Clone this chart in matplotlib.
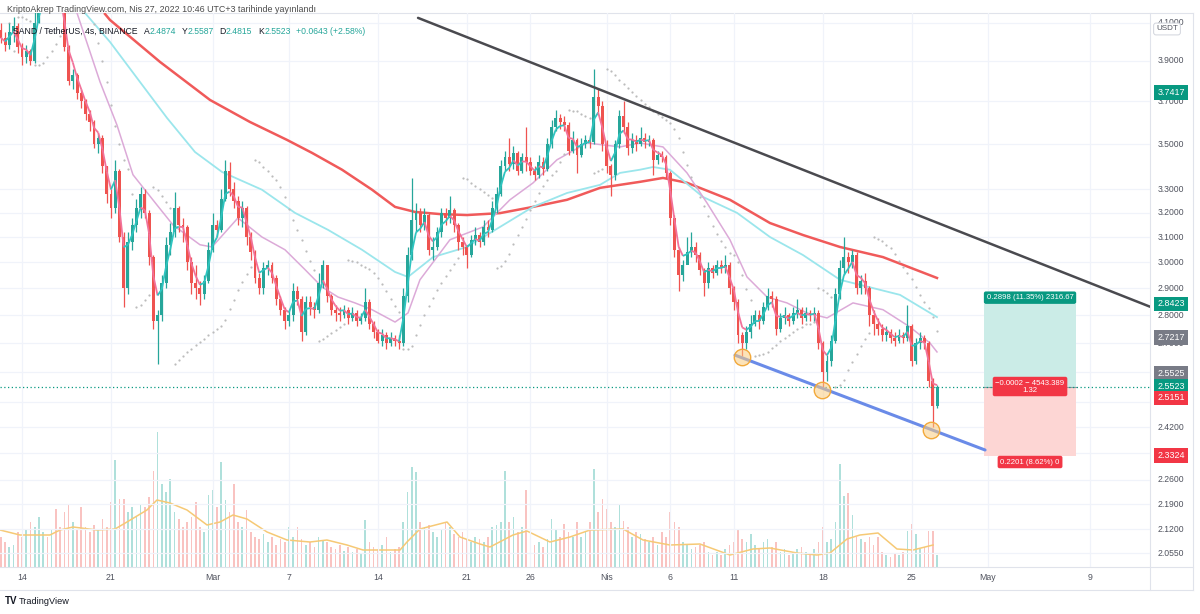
import numpy as np
import pandas as pd
import matplotlib
matplotlib.use("Agg")
import matplotlib.pyplot as plt
import matplotlib.transforms as mtrans
from matplotlib.collections import LineCollection
from matplotlib.lines import Line2D

plt.rcParams['font.family'] = ['Liberation Sans', 'DejaVu Sans']

# ------------------------------------------------------------------ data
candle_start = "2022-02-12 08:00"
candle_freq = "8h"
open0 = 4.06
close = [4.02, 3.98, 4.05, 4.08, 3.97, 3.92, 3.95, 3.90, 4.10, 4.25,
         4.30, 4.28, 4.32, 4.26, 4.22, 3.97, 3.80, 3.83, 3.74, 3.70,
         3.64, 3.60, 3.50, 3.53, 3.40, 3.28, 3.22, 3.38, 3.10, 2.90,
         3.08, 3.15, 3.22, 3.28, 3.20, 3.02, 2.78, 2.80, 2.92, 3.07,
         3.12, 3.22, 3.15, 3.14, 3.00, 2.92, 2.90, 2.88, 2.93, 3.05,
         3.15, 3.13, 3.26, 3.38, 3.30, 3.25, 3.18, 3.22, 3.10, 3.04,
         2.94, 2.90, 2.98, 2.99, 2.94, 2.86, 2.82, 2.78, 2.80, 2.89,
         2.86, 2.74, 2.85, 2.83, 2.82, 2.92, 2.99, 2.87, 2.82, 2.81,
         2.80, 2.82, 2.79, 2.81, 2.78, 2.79, 2.85, 2.77, 2.74, 2.71,
         2.73, 2.70, 2.72, 2.71, 2.70, 2.87, 3.03, 3.17, 3.20, 3.15,
         3.19, 3.05, 3.06, 3.12, 3.20, 3.18, 3.21, 3.15, 3.08, 3.06,
         3.03, 3.09, 3.11, 3.08, 3.14, 3.13, 3.22, 3.28, 3.40, 3.44,
         3.41, 3.46, 3.38, 3.44, 3.42, 3.38, 3.36, 3.42, 3.39, 3.50,
         3.58, 3.62, 3.60, 3.59, 3.47, 3.52, 3.45, 3.50, 3.52, 3.51,
         3.72, 3.68, 3.50, 3.40, 3.36, 3.50, 3.63, 3.58, 3.48, 3.52,
         3.50, 3.53, 3.51, 3.52, 3.43, 3.45, 3.44, 3.37, 3.18, 3.05,
         2.95, 2.99, 3.04, 3.06, 3.03, 2.97, 2.92, 2.98, 2.96, 2.99,
         2.98, 2.99, 2.90, 2.85, 2.73, 2.70, 2.74, 2.77, 2.80, 2.78,
         2.83, 2.87, 2.86, 2.75, 2.79, 2.80, 2.78, 2.81, 2.82, 2.79,
         2.81, 2.80, 2.81, 2.70, 2.60, 2.64, 2.71, 2.88, 2.98, 3.02,
         3.00, 3.03, 2.90, 2.93, 2.90, 2.80, 2.77, 2.75, 2.73, 2.74,
         2.72, 2.71, 2.73, 2.72, 2.76, 2.64, 2.70, 2.72, 2.70, 2.57,
         2.4874, 2.5523]
high = [4.10, 4.05, 4.10, 4.13, 4.10, 3.99, 3.98, 3.96, 4.20, 4.35,
        4.40, 4.38, 4.45, 4.36, 4.30, 4.24, 3.98, 3.86, 3.84, 3.76,
        3.71, 3.66, 3.61, 3.55, 3.54, 3.40, 3.30, 3.43, 3.39, 3.12,
        3.12, 3.18, 3.26, 3.31, 3.30, 3.21, 3.03, 2.82, 2.95, 3.10,
        3.16, 3.29, 3.23, 3.18, 3.15, 3.02, 2.99, 2.93, 2.95, 3.08,
        3.20, 3.17, 3.30, 3.43, 3.42, 3.33, 3.27, 3.25, 3.23, 3.12,
        3.05, 2.96, 3.00, 3.01, 3.00, 2.95, 2.87, 2.83, 2.82, 2.92,
        2.91, 2.87, 2.87, 2.87, 2.85, 2.96, 3.01, 2.99, 2.88, 2.84,
        2.83, 2.84, 2.83, 2.83, 2.82, 2.81, 2.90, 2.86, 2.78, 2.75,
        2.75, 2.74, 2.74, 2.73, 2.73, 2.90, 3.06, 3.35, 3.24, 3.22,
        3.22, 3.20, 3.10, 3.14, 3.22, 3.22, 3.27, 3.22, 3.16, 3.10,
        3.07, 3.11, 3.14, 3.12, 3.17, 3.17, 3.25, 3.31, 3.43, 3.47,
        3.53, 3.49, 3.47, 3.46, 3.58, 3.44, 3.40, 3.45, 3.44, 3.53,
        3.61, 3.66, 3.64, 3.63, 3.60, 3.56, 3.53, 3.53, 3.54, 3.54,
        3.86, 3.76, 3.70, 3.52, 3.41, 3.52, 3.66, 3.70, 3.60, 3.55,
        3.54, 3.58, 3.55, 3.54, 3.53, 3.47, 3.47, 3.45, 3.38, 3.19,
        3.06, 3.01, 3.10, 3.12, 3.08, 3.04, 2.98, 3.00, 2.99, 3.01,
        3.01, 3.03, 3.00, 2.91, 2.86, 2.74, 2.76, 2.80, 2.82, 2.82,
        2.85, 2.90, 2.89, 2.87, 2.81, 2.83, 2.81, 2.83, 2.86, 2.83,
        2.83, 2.82, 2.83, 2.82, 2.71, 2.66, 2.73, 2.90, 3.01, 3.10,
        3.04, 3.05, 3.04, 2.95, 2.96, 2.91, 2.82, 2.79, 2.77, 2.76,
        2.75, 2.74, 2.75, 2.74, 2.84, 2.77, 2.72, 2.74, 2.73, 2.71,
        2.58, 2.5587]
low = [3.99, 3.95, 3.96, 4.00, 3.94, 3.88, 3.89, 3.88, 3.89, 4.10,
       4.20, 4.20, 4.22, 4.18, 4.16, 3.95, 3.78, 3.76, 3.71, 3.67,
       3.61, 3.56, 3.48, 3.46, 3.37, 3.24, 3.18, 3.20, 3.08, 2.83,
       2.88, 3.05, 3.12, 3.18, 3.18, 2.99, 2.75, 2.63, 2.78, 2.90,
       3.03, 3.10, 3.12, 3.08, 2.97, 2.88, 2.86, 2.84, 2.86, 2.92,
       3.04, 3.10, 3.12, 3.25, 3.27, 3.22, 3.15, 3.14, 3.07, 3.01,
       2.92, 2.88, 2.88, 2.95, 2.92, 2.84, 2.80, 2.75, 2.76, 2.78,
       2.84, 2.71, 2.73, 2.80, 2.79, 2.81, 2.90, 2.85, 2.80, 2.78,
       2.78, 2.79, 2.77, 2.78, 2.76, 2.77, 2.78, 2.75, 2.72, 2.70,
       2.69, 2.68, 2.69, 2.69, 2.68, 2.69, 2.85, 3.01, 3.12, 3.12,
       3.13, 3.03, 3.01, 3.05, 3.10, 3.15, 3.16, 3.12, 3.05, 3.03,
       2.98, 3.02, 3.07, 3.06, 3.07, 3.10, 3.12, 3.20, 3.27, 3.38,
       3.38, 3.39, 3.36, 3.37, 3.38, 3.36, 3.34, 3.35, 3.36, 3.38,
       3.48, 3.56, 3.57, 3.56, 3.45, 3.46, 3.37, 3.44, 3.48, 3.48,
       3.50, 3.65, 3.47, 3.37, 3.27, 3.34, 3.48, 3.55, 3.45, 3.46,
       3.47, 3.49, 3.48, 3.49, 3.36, 3.41, 3.42, 3.35, 3.15, 3.02,
       2.89, 2.93, 3.00, 3.02, 3.00, 2.95, 2.87, 2.90, 2.94, 2.95,
       2.96, 2.96, 2.88, 2.82, 2.70, 2.655, 2.68, 2.72, 2.76, 2.75,
       2.77, 2.82, 2.83, 2.73, 2.74, 2.77, 2.76, 2.77, 2.79, 2.77,
       2.78, 2.78, 2.78, 2.68, 2.55, 2.57, 2.62, 2.70, 2.86, 2.95,
       2.96, 2.98, 2.88, 2.88, 2.88, 2.76, 2.73, 2.73, 2.71, 2.71,
       2.70, 2.69, 2.70, 2.70, 2.71, 2.62, 2.63, 2.68, 2.68, 2.55,
       2.42, 2.4815]
volume = [30, 25, 20, 22, 35, 30, 38, 45, 40, 50,
          35, 30, 38, 58, 40, 55, 62, 45, 38, 60,
          40, 35, 42, 38, 48, 40, 65, 107, 68, 68,
          55, 60, 50, 62, 60, 70, 96, 135, 83, 75,
          88, 55, 48, 40, 45, 50, 65, 40, 35, 72,
          77, 60, 105, 67, 55, 83, 45, 40, 57, 35,
          30, 28, 33, 25, 30, 22, 28, 25, 40, 30,
          40, 28, 22, 25, 20, 30, 27, 25, 20, 18,
          22, 16, 20, 15, 18, 14, 47, 25, 20, 18,
          22, 30, 15, 18, 20, 45, 75, 100, 95, 45,
          40, 42, 35, 30, 38, 45, 40, 33, 30, 35,
          28, 25, 30, 28, 25, 30, 40, 42, 45, 96,
          45, 50, 35, 40, 77, 30, 22, 25, 20, 28,
          48, 38, 30, 43, 35, 30, 45, 30, 35, 45,
          98, 55, 68, 58, 45, 40, 62, 46, 40, 30,
          35, 33, 28, 25, 30, 22, 35, 30, 55, 45,
          40, 25, 22, 18, 20, 22, 25, 15, 12, 15,
          12, 18, 22, 25, 38, 28, 25, 33, 22, 18,
          25, 28, 20, 25, 15, 18, 12, 15, 18, 20,
          15, 12, 18, 25, 40, 25, 28, 45, 103, 71,
          74, 52, 30, 28, 25, 30, 22, 30, 15, 12,
          10, 14, 12, 15, 36, 43, 33, 18, 20, 36,
          36, 12]

# moving averages (day offsets from 14 Feb 2022)
ma_red_days = [6.53, 6.92, 10.86, 14.79, 17.94, 20.85, 22.82, 25.18, 27.54, 29.35,
               30.92, 32.89, 35.01, 37.61, 40.20, 42.88, 45.48, 47.05, 48.62, 50.43,
               52.32, 55.70, 58.85, 61.45, 64.36, 67.74, 71.99]
ma_red = [4.146, 4.114, 3.895, 3.707, 3.602, 3.519, 3.460, 3.385, 3.298, 3.225,
          3.204, 3.195, 3.191, 3.199, 3.225, 3.255, 3.306, 3.319, 3.332, 3.349,
          3.328, 3.255, 3.158, 3.109, 3.061, 3.021, 2.940]
ma_cyan_days = [4.96, 6.92, 9.28, 11.41, 13.61, 15.74, 18.88, 21.48, 24.08, 26.75,
                29.35, 30.37, 32.34, 35.01, 37.61, 40.20, 42.88, 45.48, 47.05, 48.62,
                49.65, 50.98, 53.58, 56.26, 58.85, 61.45, 64.36, 69.08, 71.99]
ma_cyan = [4.151, 3.998, 3.795, 3.621, 3.464, 3.375, 3.298, 3.200, 3.130, 3.050,
           2.963, 2.944, 3.021, 3.061, 3.142, 3.225, 3.284, 3.319, 3.371, 3.385,
           3.397, 3.385, 3.267, 3.200, 3.101, 3.029, 2.933, 2.876, 2.794]
ma_mauve_days = [4.33, 6.14, 7.47, 8.73, 10.62, 11.88, 14.00, 14.95, 16.99, 18.88,
                 20.69, 22.27, 23.60, 24.86, 26.20, 27.54, 29.35, 30.37, 31.31, 33.67,
                 36.27, 38.39, 40.20, 42.09, 44.45, 47.05, 48.62, 50.43, 52.32, 53.89,
                 55.70, 57.04, 58.62, 60.19, 61.76, 63.34, 65.38, 67.74, 69.87, 71.44,
                 71.99]
ma_mauve = [4.151, 3.795, 3.588, 3.363, 3.233, 3.150, 3.070, 3.061, 3.179, 3.101,
            3.050, 2.972, 2.906, 2.868, 2.846, 2.821, 2.776, 2.809, 2.933, 3.090,
            3.142, 3.255, 3.327, 3.429, 3.505, 3.487, 3.505, 3.487, 3.371, 3.242,
            3.090, 2.944, 2.868, 2.846, 2.809, 2.791, 2.846, 2.821, 2.758, 2.701,
            2.670]
vol_ma_days = [-1.73, -0.16, 2.20, 2.99, 4.01, 5.90, 7.32, 8.26, 9.83, 10.62,
               11.64, 12.98, 14.56, 15.58, 16.60, 17.70, 19.28, 20.85, 22.66, 23.99,
               25.57, 26.83, 29.74, 30.29, 31.31, 33.44, 34.46, 36.03, 36.82, 38.63,
               39.73, 41.54, 43.11, 44.69, 47.29, 48.86, 50.98, 53.34, 55.70, 57.51,
               58.85, 60.98, 62.55, 63.57, 64.91, 65.93, 67.35, 68.84, 70.10, 71.68]
vol_ma = [37, 32, 32, 37, 40, 37, 38, 45, 57, 67,
          64, 57, 42, 45, 52, 48, 35, 27, 25, 27,
          22, 17, 17, 25, 38, 45, 30, 23, 20, 32,
          36, 25, 30, 37, 38, 27, 22, 23, 12, 18,
          19, 14, 12, 14, 28, 32, 34, 18, 17, 22]

tick_dates = ["2022-02-14", "2022-02-21", "2022-03-01", "2022-03-07", "2022-03-14",
              "2022-03-21", "2022-03-26", "2022-04-01", "2022-04-06", "2022-04-11",
              "2022-04-18", "2022-04-25", "2022-05-01", "2022-05-09"]
tick_labels = ["14", "21", "Mar", "7", "14", "21", "26", "Nis", "6", "11",
               "18", "25", "May", "9"]
price_grid = [4.1, 3.9, 3.7, 3.5, 3.3, 3.2, 3.1, 3.0, 2.9, 2.8, 2.7, 2.6, 2.5,
              2.42, 2.34, 2.26, 2.19, 2.12, 2.055]
# labels hidden behind the coloured price marks are not drawn
price_labels = [4.1, 3.9, 3.7, 3.5, 3.3, 3.2, 3.1, 3.0, 2.9, 2.8, 2.7,
                2.42, 2.26, 2.19, 2.12, 2.055]

trend_days = [31.16, 88.75]
trend_prices = [4.125, 2.832]
support_days = [56.10, 75.77]
support_prices = [2.659, 2.350]
touch_days = [56.65, 62.94, 71.52]
touch_prices = [2.654, 2.542, 2.413]

entry_price = 2.5525
take_profit = 2.8423
stop_loss = 2.3324
position_days = [75.69, 82.93]
last_price = 2.5523

axis_marks = [(3.7417, '#089981', 0), (2.8423, '#089981', 0), (2.7217, '#787b86', 0),
              (2.5525, '#787b86', 13.5), (2.5523, '#089981', 0), (2.5151, '#f23645', 0),
              (2.3324, '#f23645', 0)]

header = "KriptoAkrep TradingView.com, Nis 27, 2022 10:46 UTC+3 tarihinde yayınlandı"
legend_parts = [("SAND / TetherUS, 4s, BINANCE", 'dark'), ("A", 'dark'),
                ("2.4874", 'teal'), ("Y", 'dark'), ("2.5587", 'teal'),
                ("D", 'dark'), ("2.4815", 'teal'), ("K", 'dark'),
                ("2.5523", 'teal'), ("+0.0643 (+2.58%)", 'teal')]

# ------------------------------------------------------------------ figure
W, H = 1200, 614
fig = plt.figure(figsize=(W / 100, H / 100), dpi=100)
fig.patch.set_facecolor('white')


def rect(x0, y0, x1, y1):
    return [x0 / W, 1 - y1 / H, (x1 - x0) / W, (y1 - y0) / H]


PANE = (0, 13, 1150, 567)
ax_v = fig.add_axes(rect(*PANE))
ax = fig.add_axes(rect(*PANE))
ax.set_zorder(2)
ax_v.set_zorder(1)
ax.patch.set_visible(False)

XL = (-1.731, 88.749)
YL = (2.0179, 4.1513)
PANE_H = PANE[3] - PANE[1]

base = pd.Timestamp('2022-02-14')
t = np.asarray((pd.date_range(candle_start, periods=len(close), freq=candle_freq) - base)
               / pd.Timedelta(days=1))
c = np.asarray(close, float)
o = np.concatenate([[open0], c[:-1]])
h = np.asarray(high, float)
l = np.asarray(low, float)
up = c >= o
UP, DN = '#26a69a', '#ef5350'
cols = np.where(up, UP, DN)

ax.set_yscale('log')
ax.set_xlim(*XL)
ax.set_ylim(*YL)
ax.yaxis.set_major_locator(matplotlib.ticker.NullLocator())
ax.yaxis.set_minor_locator(matplotlib.ticker.NullLocator())
ax.xaxis.set_major_locator(matplotlib.ticker.NullLocator())
for a in (ax, ax_v):
    for s in a.spines.values():
        s.set_visible(False)
ax_v.set_xticks([])
ax_v.set_yticks([])
ax_v.set_xlim(*XL)
ax_v.set_ylim(0, PANE_H)

tick_days = [(pd.Timestamp(d) - base) / pd.Timedelta(days=1) for d in tick_dates]
GRID = '#f0f3fa'
for p in price_grid:
    ax.axhline(p, color=GRID, lw=0.9, zorder=0)
for d in tick_days:
    ax.axvline(d, color=GRID, lw=0.9, zorder=0)

# volume
vcols = np.where(up, '#afe0db', '#f9c3c1')
ax_v.bar(t, volume, width=0.13, color=vcols, linewidth=0)
ax_v.plot(vol_ma_days, vol_ma, color='#f6c975', lw=1.1)

# moving averages
ax.plot(ma_red_days, ma_red, color='#f05a5a', lw=1.8, zorder=2)
ax.plot(ma_cyan_days, ma_cyan, color='#9be6ec', lw=1.3, zorder=2)
ax.plot(ma_mauve_days, ma_mauve, color='#dcaad8', lw=1.1, zorder=2)


# parabolic SAR from the candles
def psar(hh, ll, af0=0.02, step=0.02, afmax=0.2):
    n = len(hh)
    sar = np.zeros(n)
    bull = False
    af = af0
    ep = ll[0]
    sar[0] = hh[0]
    for i in range(1, n):
        s = sar[i - 1] + af * (ep - sar[i - 1])
        if bull:
            s = min(s, ll[i - 1], ll[max(i - 2, 0)])
            if ll[i] < s:
                bull, s, ep, af = False, ep, ll[i], af0
            elif hh[i] > ep:
                ep, af = hh[i], min(af + step, afmax)
        else:
            s = max(s, hh[i - 1], hh[max(i - 2, 0)])
            if hh[i] > s:
                bull, s, ep, af = True, ep, hh[i], af0
            elif ll[i] < ep:
                ep, af = ll[i], min(af + step, afmax)
        sar[i] = s
    return sar


sar = psar(h, l)
ax.plot(t[2:], sar[2:], ls='none', marker='o', ms=1.6, mew=0, color='#bcbcbc', zorder=2)

# candles
ax.vlines(t, l, h, colors=cols, lw=0.9, zorder=3)
body_lo = np.minimum(o, c)
body_h = np.maximum(np.abs(c - o), 0.004)
ax.bar(t, body_h, bottom=body_lo, width=0.23, color=cols, linewidth=0, zorder=4)

# short EMA coloured by slope
ema = pd.Series(c).ewm(span=3, adjust=False).mean().to_numpy()
pts = np.column_stack([t, ema])
segs = np.stack([pts[:-1], pts[1:]], axis=1)
scol = np.where(np.diff(ema) >= 0, '#2ec4c0', '#f2729a')
ax.add_collection(LineCollection(segs, colors=scol, lw=1.3, zorder=5))

# trend lines
ax.plot(trend_days, trend_prices, color='#4a4a4f', lw=1.8, zorder=6, solid_capstyle='round')
ax.plot(support_days, support_prices, color='#6a8be8', lw=2.2, zorder=6, solid_capstyle='round')
ax.scatter(touch_days, touch_prices, s=140, facecolor=(0.98, 0.80, 0.50, 0.55),
           edgecolor='#f2a93b', lw=1.0, zorder=7)

# current price line
ax.axhline(last_price, color='#089981', lw=0.9, ls=(0, (1, 2)), zorder=5)

# long position tool
ax.fill_between(position_days, entry_price, take_profit, color='#cbece7', lw=0, zorder=1)
ax.fill_between(position_days, stop_loss, entry_price, color='#fdd6d4', lw=0, zorder=1)
ax.plot(position_days, [entry_price, entry_price], color='#9598a1', lw=0.8, zorder=2)
mid = sum(position_days) / 2
lbl_kw = dict(ha='center', va='center', color='white', fontsize=5.6, zorder=9,
              textcoords='offset points')
ax.annotate("0.2898 (11.35%) 2316.67", (mid, take_profit), xytext=(0, 4.5),
            bbox=dict(boxstyle='round,pad=0.35,rounding_size=0.25', fc='#089981', ec='none'), **lbl_kw)
ax.annotate("\u22120.0002 \u2212 4543.389\n1.32", (mid, entry_price), xytext=(0, 0),
            linespacing=1.0,
            bbox=dict(boxstyle='round,pad=0.35,rounding_size=0.25', fc='#f23645', ec='none'), **lbl_kw)
ax.annotate("0.2201 (8.62%) 0", (mid, stop_loss), xytext=(0, -4.5),
            bbox=dict(boxstyle='round,pad=0.35,rounding_size=0.25', fc='#f23645', ec='none'), **lbl_kw)

# right price axis labels
ytrans = mtrans.blended_transform_factory(ax.transAxes, ax.transData)
LX = 1171 / 1150
for p in price_labels:
    ax.text(LX, p, f"{p:.4f}", transform=ytrans, ha='center', va='center',
            fontsize=6.2, color='#50535e', clip_on=False, zorder=8)
for p, colr, dy in axis_marks:
    ax.annotate(f"{p:.4f}", (LX, p), xycoords=ytrans, xytext=(0, dy * 0.72),
                textcoords='offset points', ha='center', va='center', fontsize=6.4,
                color='white', annotation_clip=False, zorder=10,
                bbox=dict(boxstyle='square,pad=0.32', fc=colr, ec='none'))
ax.text(1167 / 1150, 1 - (29 - 13) / PANE_H, "USDT", transform=ax.transAxes, ha='center',
        va='center', fontsize=5.8, color='#50535e', clip_on=False, zorder=11,
        bbox=dict(boxstyle='round,pad=0.3,rounding_size=0.3', fc='white', ec='#d1d4dc', lw=0.7))

# time axis labels
xtrans = mtrans.blended_transform_factory(ax.transData, ax.transAxes)
for d, lab in zip(tick_days, tick_labels):
    ax.text(d, -(578 - 567) / PANE_H, lab, transform=xtrans, ha='center', va='center',
            fontsize=6.3, color='#50535e', clip_on=False)

# frame lines
BORDER = '#e0e3eb'


def fline(x0, y0, x1, y1):
    fig.add_artist(Line2D([x0 / W, x1 / W], [1 - y0 / H, 1 - y1 / H],
                          transform=fig.transFigure, color=BORDER, lw=0.8))


fline(0, 13, 1193, 13)
fline(0, 567, 1193, 567)
fline(0, 590, 1193, 590)
fline(1150, 13, 1150, 590)
fline(1193, 13, 1193, 590)

# header
renderer = fig.canvas.get_renderer()
hdr = fig.text(7 / W, 1 - 10 / H, header, fontsize=6, color='#4a4a4a', va='center')
w = hdr.get_window_extent(renderer).width
hdr.set_fontsize(6 * 311 / w)

# symbol legend laid out piece by piece (target span 13 px .. 367 px)
colors = {'dark': '#131722', 'teal': '#26a69a'}
leg = [fig.text(0, 1 - 31 / H, txt, fontsize=6.4, color=colors[cn], va='center', zorder=20)
       for txt, cn in legend_parts]
GAP = 6.0


def layout(fs):
    x = 13.0
    for k, tt in enumerate(leg):
        tt.set_fontsize(fs)
        if k > 0 and legend_parts[k][1] == 'dark' or (k == len(leg) - 1):
            x += GAP
        tt.set_x(x / W)
        x += tt.get_window_extent(renderer).width
    return x


fs = 6.4
end = layout(fs)
fs = fs * (367 - 13 - 5 * GAP) / (end - 13 - 5 * GAP)
layout(fs)

# footer logo
fig.text(5 / W, 1 - 601 / H, "TV", fontsize=7, fontweight='bold', color='#131722', va='center')
fig.text(19 / W, 1 - 601 / H, "TradingView", fontsize=6.6, color='#131722', va='center')

fig.savefig("out.png", dpi=100, facecolor='white')
